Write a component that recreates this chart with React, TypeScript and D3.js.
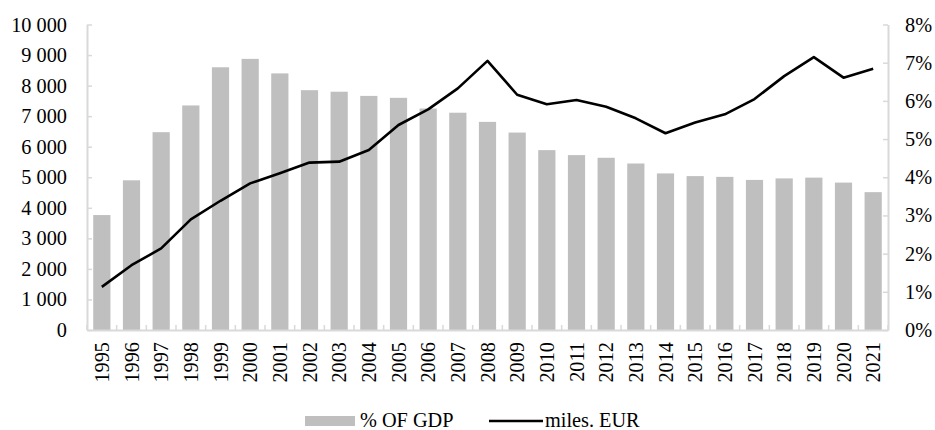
import React, { useEffect, useRef } from 'react';
import * as d3 from 'd3';

const years = [
  '1995', '1996', '1997', '1998', '1999', '2000', '2001', '2002', '2003',
  '2004', '2005', '2006', '2007', '2008', '2009', '2010', '2011', '2012',
  '2013', '2014', '2015', '2016', '2017', '2018', '2019', '2020', '2021',
];

// % of GDP (right axis, bars)
const pctGdp = [
  3.01, 3.92, 5.18, 5.88, 6.88, 7.1, 6.72, 6.28, 6.24, 6.13, 6.08, 5.8, 5.69,
  5.45, 5.17, 4.71, 4.58, 4.51, 4.36, 4.1, 4.03, 4.01, 3.93, 3.97, 3.99, 3.86,
  3.61,
];

// miles. EUR (left axis, line)
const milesEur = [
  1410, 2120, 2670, 3620, 4230, 4800, 5130, 5480, 5510, 5890, 6710, 7220, 7910,
  8810, 7700, 7390, 7530, 7310, 6930, 6440, 6790, 7060, 7560, 8310, 8930, 8260,
  8550,
];

const leftTicks = [0, 1000, 2000, 3000, 4000, 5000, 6000, 7000, 8000, 9000, 10000];
const rightTicks = [0, 1, 2, 3, 4, 5, 6, 7, 8];

const legendLabels = ['% OF GDP', 'miles. EUR'];

const App = () => {
  const anchor = useRef<SVGSVGElement | null>(null);

  useEffect(() => {
    const width = 935;
    const height = 430;
    const margin = { top: 24.5, right: 47, bottom: 100, left: 87 };
    const font = '"Liberation Serif", "Times New Roman", serif';
    const fontSize = '20.3px';
    const axisColor = '#d9d9d9';

    const svg = d3.select(anchor.current);
    svg.selectAll('*').remove();

    const x = d3
      .scaleBand()
      .domain(years)
      .range([margin.left, width - margin.right])
      .paddingInner(0.42)
      .paddingOuter(0.21);

    const yLeft = d3
      .scaleLinear()
      .domain([0, 10000])
      .range([height - margin.bottom, margin.top]);

    const yRight = d3
      .scaleLinear()
      .domain([0, 8])
      .range([height - margin.bottom, margin.top]);

    // Bars
    svg
      .append('g')
      .selectAll('rect')
      .data(pctGdp)
      .enter()
      .append('rect')
      .attr('x', (d, i) => x(years[i]) as number)
      .attr('y', d => yRight(d))
      .attr('width', x.bandwidth())
      .attr('height', d => yRight(0) - yRight(d))
      .style('fill', '#bfbfbf');

    // Left axis
    const fmt = (v: number) => d3.format(',')(v).replace(/,/g, ' ');
    const leftAxis = svg
      .append('g')
      .attr('transform', `translate(${margin.left},0)`)
      .call(
        d3
          .axisLeft(yLeft)
          .tickValues(leftTicks)
          .tickFormat(d => fmt(d as number))
          .tickSizeInner(-5)
          .tickSizeOuter(0)
          .tickPadding(20)
      );

    // Right axis
    const rightAxis = svg
      .append('g')
      .attr('transform', `translate(${width - margin.right},0)`)
      .call(
        d3
          .axisRight(yRight)
          .tickValues(rightTicks)
          .tickFormat(d => `${d}%`)
          .tickSizeInner(-5)
          .tickSizeOuter(0)
          .tickPadding(17)
      );

    // X axis
    const xAxis = svg
      .append('g')
      .attr('transform', `translate(0,${height - margin.bottom})`)
      .call(d3.axisBottom(x).tickSize(0).tickPadding(12));

    // category boundary ticks
    const step = x.step();
    const bounds = d3.range(years.length + 1).map(i => margin.left + i * step);
    xAxis
      .selectAll('.bound')
      .data(bounds)
      .enter()
      .append('line')
      .attr('x1', d => d)
      .attr('x2', d => d)
      .attr('y1', 0)
      .attr('y2', -5)
      .attr('stroke', axisColor)
      .attr('stroke-width', 1.5);

    xAxis
      .selectAll('.tick text')
      .attr('transform', 'rotate(-90)')
      .attr('text-anchor', 'end')
      .attr('x', -12)
      .attr('y', 0)
      .attr('dy', '0.35em');

    [leftAxis, rightAxis, xAxis].forEach(g => {
      g.selectAll('.domain').attr('stroke', axisColor).attr('stroke-width', 2);
      g.selectAll('.tick line').attr('stroke', axisColor).attr('stroke-width', 1.5);
      g.selectAll('text')
        .style('font-family', font)
        .style('font-size', fontSize)
        .attr('fill', '#000');
    });

    // Line
    const line = d3
      .line<number>()
      .x((d, i) => (x(years[i]) as number) + x.bandwidth() / 2)
      .y(d => yLeft(d));

    svg
      .append('path')
      .datum(milesEur)
      .attr('d', line)
      .attr('fill', 'none')
      .attr('stroke', '#000')
      .attr('stroke-width', 2.6)
      .attr('stroke-linejoin', 'round');

    // Legend
    const legend = svg.append('g').style('font-family', font).style('font-size', fontSize);

    legend
      .append('rect')
      .attr('x', 305)
      .attr('y', 416)
      .attr('width', 50)
      .attr('height', 10)
      .style('fill', '#bfbfbf');

    legend
      .append('text')
      .attr('x', 360)
      .attr('y', 427)
      .text(legendLabels[0]);

    legend
      .append('line')
      .attr('x1', 489)
      .attr('x2', 543)
      .attr('y1', 421)
      .attr('y2', 421)
      .attr('stroke', '#000')
      .attr('stroke-width', 2.6);

    legend
      .append('text')
      .attr('x', 545)
      .attr('y', 427)
      .text(legendLabels[1]);
  }, []);

  return (
    <svg
      ref={anchor}
      width={935}
      height={430}
      style={{ position: 'absolute', left: 0, top: 0, background: '#fff' }}
    />
  );
};

export default App;
